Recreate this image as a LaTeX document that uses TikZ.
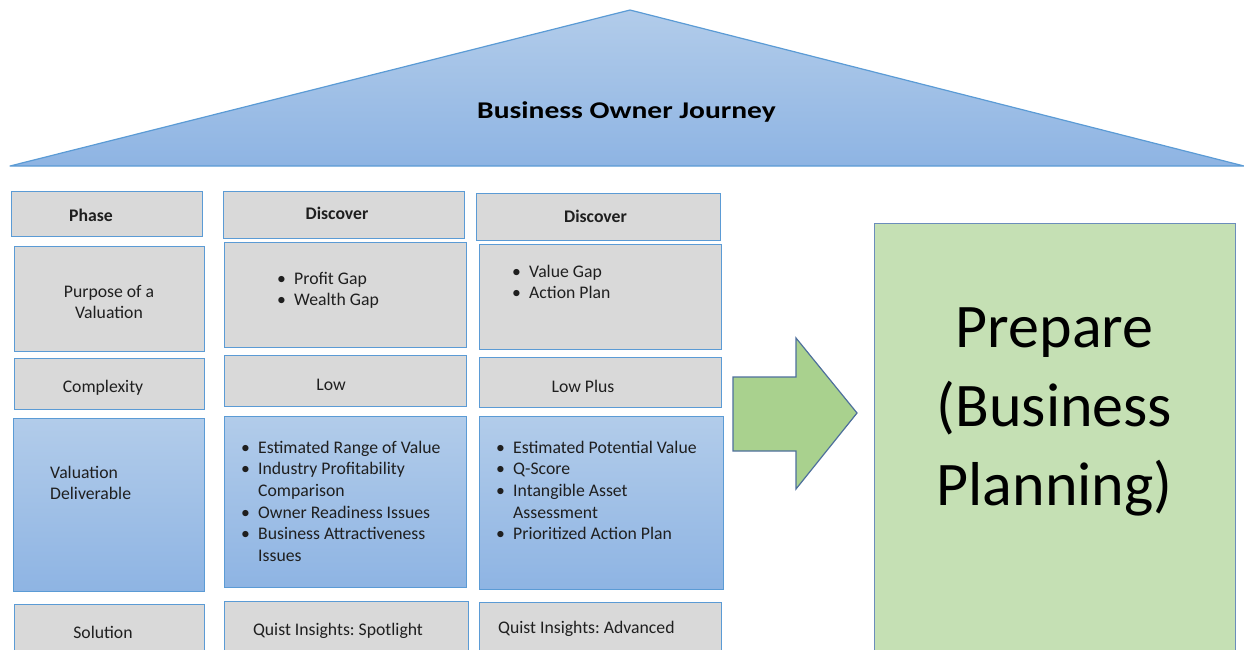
\documentclass[tikz,border=0pt]{standalone}
\usepackage{fontspec}
\setmainfont{Carlito}
\frenchspacing
\begin{document}
\definecolor{cellgray}{HTML}{D9D9D9}
\definecolor{cellborder}{HTML}{5B9BD5}
\definecolor{bluetop}{HTML}{B2CCEA}
\definecolor{bluebot}{HTML}{8EB4E3}
\definecolor{arrowfill}{HTML}{A9D18E}
\definecolor{arrowline}{HTML}{4E6F9C}
\definecolor{prepfill}{HTML}{C5E0B4}
\definecolor{prepline}{HTML}{6B8DBB}
\definecolor{ink}{HTML}{1F1F1F}
\newcommand{\bl}{\makebox[17pt][l]{\textbullet}}
\newcommand{\ind}{\hspace*{17pt}}
\begin{tikzpicture}[x=1pt,y=-1pt,
  cell/.style={draw=cellborder, line width=1.2pt, fill=cellgray, inner sep=0pt, anchor=north west},
  bluecell/.style={cell, top color=bluetop, bottom color=bluebot},
  txt/.style={inner sep=0pt, text=ink, font=\fontsize{17.7}{21.6}\selectfont},
  btxt/.style={txt, font=\fontsize{17.7}{21.6}\selectfont\bfseries},
  lst/.style={txt, anchor=north west, align=left}]
\useasboundingbox (0,0) rectangle (1244,649);
\clip (0,0) rectangle (1244,649);

% roof
\shade[top color=bluetop, bottom color=bluebot] (630,10) -- (1244,166) -- (10,166) -- cycle;
\draw[cellborder, line width=1.2pt, line join=round] (630,10) -- (1244,166) -- (10,166) -- cycle;
\node[inner sep=0pt, anchor=base, font=\fontsize{24}{28}\selectfont\bfseries] (title) at (626.5,118)
  {\scalebox{1.23}[1]{Business Owner Journey}};

% column 1: row labels
\node[cell, minimum width=191pt, minimum height=45pt] (phase) at (11,191) {};
\node[cell, minimum width=190pt, minimum height=105pt] (purpose) at (14,246) {};
\node[cell, minimum width=190pt, minimum height=51pt] (complex) at (14,358) {};
\node[bluecell, minimum width=191pt, minimum height=173pt] (deliv) at (13,418) {};
\node[cell, minimum width=190pt, minimum height=80pt] (solution) at (14,604) {};

% column 2
\node[cell, minimum width=241pt, minimum height=47pt] (disc1) at (223,191) {};
\node[cell, minimum width=242pt, minimum height=105pt] (purp1) at (224,242) {};
\node[cell, minimum width=242pt, minimum height=51pt] (comp1) at (224,355) {};
\node[bluecell, minimum width=242pt, minimum height=171pt] (deliv1) at (224,416) {};
\node[cell, minimum width=244pt, minimum height=80pt] (sol1) at (224,601) {};

% column 3
\node[cell, minimum width=244pt, minimum height=47pt] (disc2) at (476,193) {};
\node[cell, minimum width=242pt, minimum height=105pt] (purp2) at (479,244) {};
\node[cell, minimum width=242pt, minimum height=50pt] (comp2) at (479,357) {};
\node[bluecell, minimum width=244pt, minimum height=173pt] (deliv2) at (479,416) {};
\node[cell, minimum width=242pt, minimum height=80pt] (sol2) at (479,602) {};

% texts, column 1
\node[btxt, anchor=base] (tphase) at (91,221) {Phase};
\node[lst, anchor=north, align=center] (tpurpose) at (109,281.9) {\strut Purpose of a\\Valuation};
\node[txt, anchor=base] (tcomplex) at (103,392) {Complexity};
\node[lst] (tdeliv) at (50,462.9) {\strut Valuation\\Deliverable};
\node[txt, anchor=base] (tsolution) at (103,638) {Solution};

% texts, column 2
\node[btxt, anchor=base] (tdisc1) at (337,219) {Discover};
\node[lst] (tpurp1) at (277,268.9) {\strut\bl Profit Gap\\\bl Wealth Gap};
\node[txt, anchor=base] (tcomp1) at (331,390) {Low};
\node[lst] (tdeliv1) at (241,437.9) {\strut\bl Estimated Range of Value\\
  \bl Industry Profitability\\\ind Comparison\\
  \bl Owner Readiness Issues\\
  \bl Business Attractiveness\\\ind Issues};
\node[txt, anchor=base] (tsol1) at (338,635) {Quist Insights: Spotlight};

% texts, column 3
\node[btxt, anchor=base] (tdisc2) at (595.5,222) {Discover};
\node[lst] (tpurp2) at (512,261.9) {\strut\bl Value Gap\\\bl Action Plan};
\node[txt, anchor=base] (tcomp2) at (583,392) {Low Plus};
\node[lst] (tdeliv2) at (496,437.9) {\strut\bl Estimated Potential Value\\
  \bl Q-Score\\
  \bl Intangible Asset\\\ind Assessment\\
  \bl Prioritized Action Plan};
\node[txt, anchor=base west] (tsol2) at (498,633) {Quist Insights: Advanced};

% arrow and next phase
\node[draw=prepline, line width=1.2pt, fill=prepfill, inner sep=0pt, anchor=north west,
  minimum width=361pt, minimum height=460pt] (prep) at (874,223) {};
\node[inner sep=0pt, anchor=north, align=center, text=black,
  font=\fontsize{62}{79}\selectfont] (tprep) at (1054.5,291.7) {\strut Prepare\\(Business\\Planning)};
\draw[arrowline, line width=1.2pt, fill=arrowfill, line join=miter]
  (733,377) -- (796,377) -- (796,338) -- (857,413) -- (796,489) -- (796,451) -- (733,451) -- cycle;
\end{tikzpicture}
\end{document}
